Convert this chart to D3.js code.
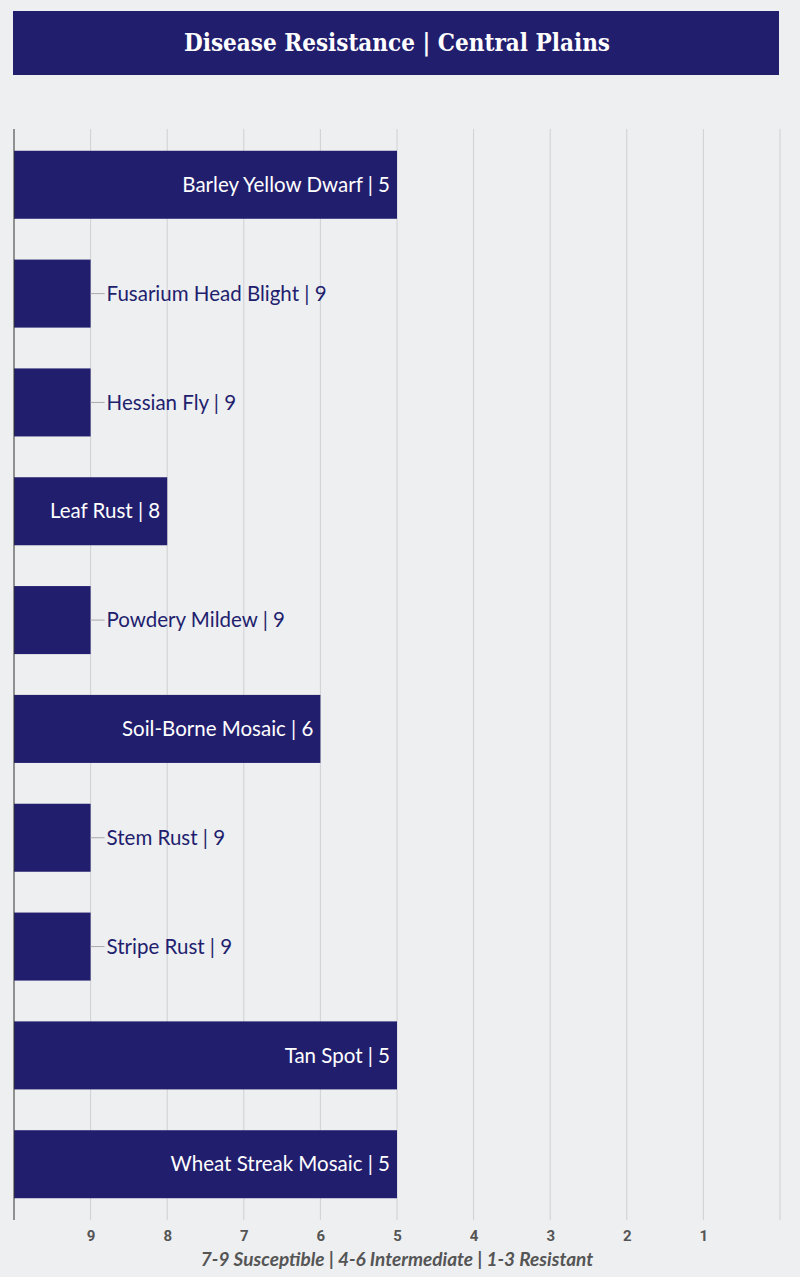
<!doctype html>
<html lang="en">
<head>
<meta charset="UTF-8">
<title>Disease Resistance | Central Plains</title>
<script src="https://d3js.org/d3.v7.min.js"></script>
<style>
    body { margin: 0; background: #eeeff1; }
    svg { display: block; }
</style>
</head>
<body>
<svg id="chart" width="800" height="1277"></svg>
<script>
    const title = "Disease Resistance | Central Plains";
    const diseases = ["Barley Yellow Dwarf", "Fusarium Head Blight", "Hessian Fly", "Leaf Rust",
        "Powdery Mildew", "Soil-Borne Mosaic", "Stem Rust", "Stripe Rust", "Tan Spot", "Wheat Streak Mosaic"];
    const ratings = [5, 9, 9, 8, 9, 6, 9, 9, 5, 5];
    const tickValues = [9, 8, 7, 6, 5, 4, 3, 2, 1];
    const axisTitle = "7-9 Susceptible | 4-6 Intermediate | 1-3 Resistant";

    const navy = "#221e6e";
    const svg = d3.select("#chart");

    // title banner
    svg.append("rect")
        .attr("x", 13).attr("y", 11)
        .attr("width", 766).attr("height", 64)
        .attr("fill", navy);
    svg.append("text")
        .attr("x", 397).attr("y", 51)
        .attr("text-anchor", "middle")
        .attr("fill", "#fff")
        .style("font-family", "'DejaVu Serif', serif")
        .style("font-weight", "bold")
        .style("font-stretch", "condensed")
        .style("font-size", "24px")
        .text(title);

    const x = d3.scaleLinear().domain([10, 0]).range([14, 780]);
    const y = d3.scaleBand().domain(diseases).range([129, 1220]).paddingInner(0.375).paddingOuter(0.2);

    // grid
    svg.append("g")
        .selectAll("line")
        .data(d3.range(0, 10))
        .join("line")
        .attr("x1", d => x(d)).attr("x2", d => x(d))
        .attr("y1", 129).attr("y2", 1220)
        .attr("stroke", "#cfd0d3")
        .attr("stroke-width", 1);

    // axis tick labels
    const xAxis = d3.axisBottom(x).tickValues(tickValues).tickSize(0).tickPadding(10);
    const ax = svg.append("g").attr("transform", "translate(0,1220)").call(xAxis);
    ax.select(".domain").remove();
    ax.selectAll("text")
        .attr("fill", "#555")
        .style("font-family", "'Roboto', sans-serif")
        .style("font-weight", "bold")
        .style("font-size", "15px");

    const rows = diseases.map((d, i) => ({ name: d, value: ratings[i] }));
    const inside = d => x(d.value) - x(10) > 150;

    svg.append("g")
        .selectAll("rect")
        .data(rows)
        .join("rect")
        .attr("x", x(10))
        .attr("y", d => y(d.name))
        .attr("width", d => x(d.value) - x(10))
        .attr("height", y.bandwidth())
        .attr("fill", navy);

    // leader lines for labels outside the bar
    svg.append("g")
        .selectAll("line")
        .data(rows.filter(d => !inside(d)))
        .join("line")
        .attr("x1", d => x(d.value)).attr("x2", d => x(d.value) + 14)
        .attr("y1", d => y(d.name) + y.bandwidth() / 2)
        .attr("y2", d => y(d.name) + y.bandwidth() / 2)
        .attr("stroke", "#aaa");

    svg.append("g")
        .selectAll("text")
        .data(rows)
        .join("text")
        .attr("x", d => inside(d) ? x(d.value) - 7 : x(d.value) + 16)
        .attr("y", d => y(d.name) + y.bandwidth() / 2)
        .attr("dy", "0.35em")
        .attr("text-anchor", d => inside(d) ? "end" : "start")
        .attr("fill", d => inside(d) ? "#fff" : navy)
        .style("font-family", "'Lato', sans-serif")
        .style("font-size", "20.5px")
        .text(d => `${d.name} | ${d.value}`);

    // left axis line
    svg.append("line")
        .attr("x1", 14).attr("x2", 14)
        .attr("y1", 129).attr("y2", 1220)
        .attr("stroke", "#333");

    svg.append("text")
        .attr("x", 397).attr("y", 1266)
        .attr("text-anchor", "middle")
        .attr("fill", "#555")
        .style("font-family", "'Lato', sans-serif")
        .style("font-style", "italic")
        .style("font-weight", "bold")
        .style("font-size", "19px")
        .text(axisTitle);
</script>
</body>
</html>
